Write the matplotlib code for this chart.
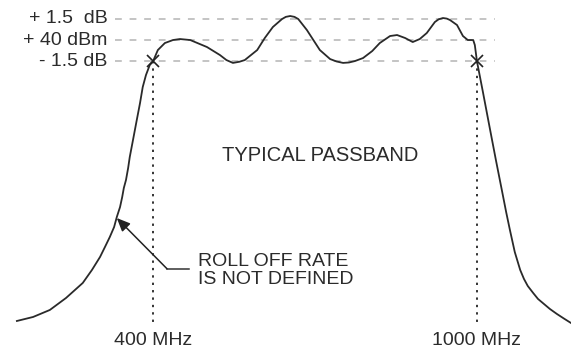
import matplotlib
matplotlib.use('Agg')
import matplotlib.pyplot as plt

plt.rcParams['font.family'] = ['Liberation Sans', 'DejaVu Sans']

# passband response (MHz, dB relative to +40 dBm)
freq = [148, 178, 209, 239, 270, 287, 302, 311, 320, 328, 333, 339, 343,
        346, 350, 354, 357, 363, 370, 376, 381, 387, 394, 400,
        409, 422, 437, 450, 469, 500, 524, 536, 548, 560, 570, 593, 607,
        622, 639, 646, 654, 662, 669, 685, 709, 728, 740, 752, 763, 774,
        789, 806, 820, 839, 852, 867, 881, 894, 907, 922, 929, 937, 944,
        950, 963, 974, 983, 993, 996, 1000, 1011, 1024, 1035, 1046, 1054,
        1061, 1070, 1080, 1087, 1094, 1104, 1113, 1124, 1135, 1148, 1161,
        1174]
level = [-19.65, -19.37, -18.88, -18.04, -16.99, -16.08, -15.17, -14.48,
         -13.78, -13.08, -12.38, -11.68, -10.98, -10.35, -9.79, -8.95,
         -8.18, -6.99, -5.59, -4.41, -3.29, -2.45, -1.75, -1.5,
         -0.7, -0.21, 0.0, 0.07, 0.0, -0.49, -1.05, -1.4, -1.6, -1.52,
         -1.4, -0.7, 0.14, 0.91, 1.47, 1.62, 1.68, 1.62, 1.47, 0.7, -0.7,
         -1.33, -1.5, -1.6, -1.57, -1.47, -1.26, -0.77, -0.21, 0.28, 0.35,
         0.14, -0.14, 0.07, 0.49, 1.26, 1.45, 1.54, 1.5, 1.4, 1.05, 0.28,
         0.0, 0.0, -0.35, -1.5, -3.64, -6.22, -8.39, -10.49, -12.03,
         -13.29, -14.83, -16.08, -16.71, -17.2, -17.69, -18.11, -18.46,
         -18.81, -19.16, -19.48, -19.79]

ref_levels = [1.5, 0.0, -1.5]
ref_labels = ['+ 1.5  dB', '+ 40 dBm', '- 1.5 dB']
edge_freqs = [400, 1000]
edge_labels = ['400 MHz', '1000 MHz']

fig = plt.figure(figsize=(5.71, 3.56), dpi=100)
ax = fig.add_axes([0, 0, 1, 1])
ax.set_xlim(116.7, 1174.1)
ax.set_ylim(-22.1, 2.8)
ax.axis('off')

txt = '#2b2b2b'

# reference levels
for lv, lab in zip(ref_levels, ref_labels):
    ax.plot([330, 1033], [lv, lv], color='#c4c4c4', lw=1.4,
            ls=(0, (3.5, 4)), zorder=1)
    ax.text(316, lv, lab, ha='right', va='center', fontsize=14, color=txt)

# band edges
for f, lab in zip(edge_freqs, edge_labels):
    ax.plot([f, f], [-1.5, -20.1], color='#333333', lw=1.4,
            ls=(0, (1.2, 2.6)), zorder=2)
    ax.plot(f, -1.5, marker='x', ms=9, mew=1.2, color='#222222', zorder=4)
    ax.text(f, -21.0, lab, ha='center', va='center', fontsize=14, color=txt)

ax.plot(freq, level, color='#2a2a2a', lw=1.3, solid_joinstyle='round', zorder=3)

ax.text(709, -8.1, 'TYPICAL PASSBAND', ha='center', va='center',
        fontsize=14.5, color=txt)

# roll off annotation
ax.plot([426, 467], [-16.0, -16.0], color='#333333', lw=1.1)
ax.annotate('', xy=(333, -12.45), xytext=(426, -16.0),
            arrowprops=dict(arrowstyle='-|>,head_length=0.8,head_width=0.35',
                            color='#222222', lw=1.1, shrinkA=0, shrinkB=0))
ax.text(483, -16.1, 'ROLL OFF RATE\nIS NOT DEFINED', ha='left', va='center',
        fontsize=14, color=txt, linespacing=1.05)

fig.savefig('out.png', dpi=100)
